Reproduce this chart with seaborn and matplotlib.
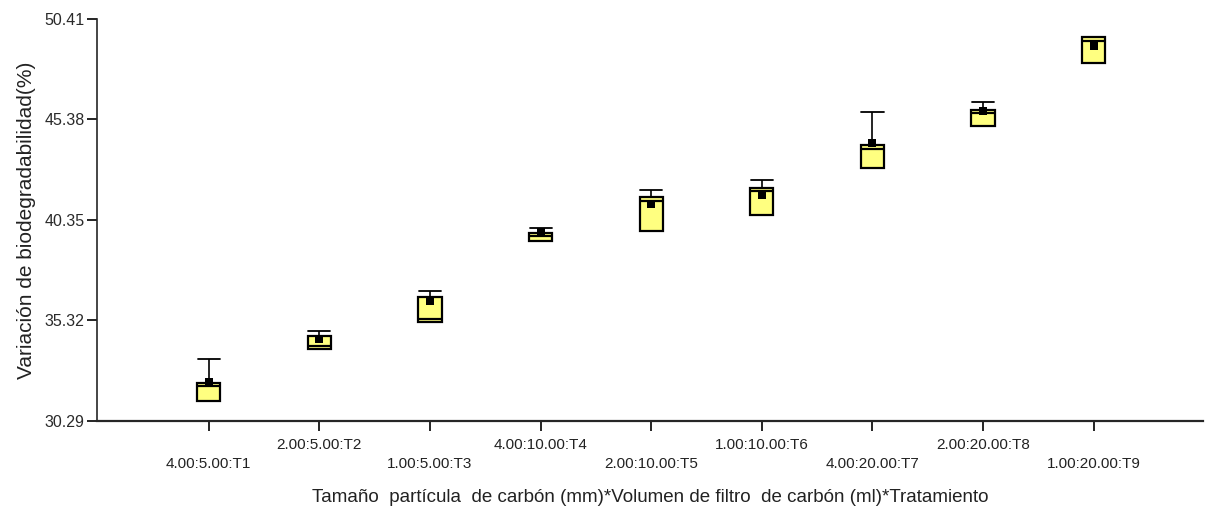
import pandas as pd
import seaborn as sns
import matplotlib.pyplot as plt

# Treatments (particle size : filter volume : treatment)
tratamientos = ["4.00:5.00:T1", "2.00:5.00:T2", "1.00:5.00:T3",
                "4.00:10.00:T4", "2.00:10.00:T5", "1.00:10.00:T6",
                "4.00:20.00:T7", "2.00:20.00:T8", "1.00:20.00:T9"]

# box summary: min, Q1, median, Q3, max
minimos = [31.29, 33.89, 35.25, 39.30, 39.80, 40.60, 42.95, 45.06, 48.21]
q1s = [31.29, 33.89, 35.25, 39.30, 39.80, 40.60, 42.95, 45.06, 48.21]
medianas = [32.04, 34.04, 35.40, 39.55, 41.30, 41.80, 43.90, 45.71, 49.31]
q3s = [32.19, 34.54, 36.50, 39.70, 41.50, 41.95, 44.10, 45.86, 49.51]
maximos = [33.39, 34.79, 36.80, 39.95, 41.85, 42.35, 45.76, 46.26, 49.51]
medias = [32.24, 34.39, 36.30, 39.75, 41.16, 41.60, 44.20, 45.81, 49.06]

y_ticks = [30.29, 35.32, 40.35, 45.38, 50.41]

# long table so that the 25/50/75 percentiles hit Q1/median/Q3
rows = []
for t, a, b, c, d, e in zip(tratamientos, minimos, q1s, medianas, q3s, maximos):
    for v in (a, b, c, d, e):
        rows.append({"trat": t, "valor": v})
df = pd.DataFrame(rows)
df_medias = pd.DataFrame({"trat": tratamientos, "media": medias})

sns.set_style("ticks")
plt.rcParams["font.family"] = ["Liberation Sans", "DejaVu Sans"]

fig = plt.figure(figsize=(12.05, 5.12), dpi=100)
ax = fig.add_axes([0.0805, 0.178, 0.918, 0.785])

sns.boxplot(data=df, x="trat", y="valor", order=tratamientos, whis=(0, 100),
            width=0.21, color="#ffff80", linecolor="black", linewidth=1.6,
            saturation=1, capwidths=0.2, ax=ax,
            medianprops={"linewidth": 1.6, "color": "black"},
            whiskerprops={"linewidth": 1.2}, capprops={"linewidth": 1.3})

sns.stripplot(data=df_medias, x="trat", y="media", order=tratamientos,
              jitter=False, marker="s", size=5.5, color="black", ax=ax, zorder=5)

ax.set_xlim(-1.01, 8.99)
ax.set_ylim(30.29, 50.41)
ax.set_yticks(y_ticks)
ax.set_yticklabels([f"{v:.2f}" for v in y_ticks], fontsize=11.5, color="#2a2a2a")
ax.set_xticks(range(len(tratamientos)))
ax.set_xticklabels(tratamientos, fontsize=11, color="#222222")
ax.tick_params(axis="both", length=7, width=1.2, color="black")
ax.tick_params(axis="y", pad=2)
for i, tick in enumerate(ax.xaxis.get_major_ticks()):
    tick.set_pad(19 if i % 2 == 0 else 5.5)

ax.set_xlabel("Tamaño  partícula  de carbón (mm)*Volumen de filtro  de carbón (ml)*Tratamiento",
              fontsize=13.5, color="#222222", labelpad=13)
ax.set_ylabel("Variación de biodegradabilidad(%)", fontsize=15, color="#222222", labelpad=6)

sns.despine(ax=ax)
ax.spines["left"].set_linewidth(1.2)
ax.spines["bottom"].set_linewidth(1.6)

fig.savefig("out.png", dpi=100)
